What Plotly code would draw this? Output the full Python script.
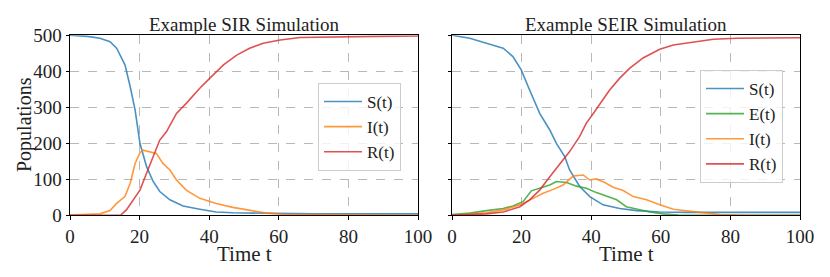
import plotly.graph_objects as go

# ---------------- data ----------------
sir_S_t = [0, 5, 8.6, 11.5, 13.4, 15.8, 17.3, 18.7, 20.1, 22, 23.9, 25.8, 28.7, 32.5, 37.3, 42, 46.8, 56.4, 70, 85, 100]
sir_S   = [500, 497, 492, 482, 464, 418, 357, 293, 200, 135, 94, 66, 43, 26, 17, 9, 7, 5, 4, 4, 4]

sir_I_t = [0, 5, 8.6, 11.5, 13.4, 15.8, 17.3, 18.7, 20.1, 21, 22.9, 24.8, 26.7, 28.7, 30.6, 33.4, 37.3, 42, 46.8, 51.6, 56.4, 61, 70, 85, 100]
sir_I   = [1, 2, 4, 13, 33, 52, 89, 144, 174, 181, 177, 172, 144, 126, 98, 70, 47, 33, 22, 13, 6, 3, 2, 1, 0]

sir_R_t = [0, 14.5, 16.2, 18.1, 20.1, 22, 23.9, 25.8, 27.7, 30.6, 33.4, 37.3, 40.2, 44.1, 47.9, 51.6, 55.5, 60.4, 66.1, 75.7, 88, 100]
sir_R   = [0, 0, 15, 43, 70, 117, 163, 209, 232, 283, 311, 353, 381, 418, 445, 464, 478, 487, 494, 496, 497, 498]

seir_S_t = [0, 5.1, 9.9, 14.7, 17.5, 19.9, 22.3, 25.2, 28.1, 30, 32.4, 33.8, 36.7, 39.6, 43.4, 48.2, 53, 59.7, 67.4, 80, 100]
seir_S   = [500, 492, 478, 464, 441, 404, 348, 283, 237, 200, 163, 126, 80, 52, 29, 19, 13, 9, 8, 8, 8]

seir_E_t = [0, 5.1, 9.9, 14.7, 17.5, 20.4, 22.8, 25.2, 28.1, 30, 32.9, 35.8, 38.6, 41.5, 44.4, 47.3, 50.1, 53, 56.9, 60.7, 65, 75, 100]
seir_E   = [2, 6, 13, 19, 26, 38, 68, 75, 84, 94, 91, 81, 75, 63, 52, 43, 24, 17, 9, 4, 1, 0, 0]

seir_I_t = [0, 5.1, 9.9, 14.7, 19.5, 23.3, 26.2, 29.1, 31.9, 34.8, 37.7, 39.6, 41.5, 43.9, 46.3, 49.2, 52.1, 55.9, 59.7, 63.6, 67.4, 70.3, 73.2, 77, 85, 100]
seir_I   = [0, 3, 7, 15, 29, 47, 61, 72, 84, 109, 112, 98, 101, 91, 78, 69, 52, 43, 29, 17, 13, 10, 6, 2, 0, 0]

seir_R_t = [0, 9.9, 14.7, 19.5, 22.3, 25.2, 28.1, 31, 33.8, 36.7, 38.6, 40.6, 43, 45.3, 48.2, 51.1, 54.9, 59.7, 63.6, 69.3, 75.1, 81.8, 100]
seir_R   = [0, 4, 9, 24, 43, 70, 107, 144, 177, 219, 256, 283, 316, 348, 381, 409, 437, 461, 473, 480, 489, 492, 493]

x_ticks = [0, 20, 40, 60, 80, 100]
y_ticks = [0, 100, 200, 300, 400, 500]

# ---------------- style ----------------
FONT = "Liberation Serif"
C_S, C_E, C_I, C_R = "#1f77b4", "#2ca02c", "#ff7f0e", "#d62728"

fig = go.Figure()

def add(x, y, name, color, xa, ya, leg):
    fig.add_trace(go.Scatter(
        x=x, y=y, name=name, mode="lines",
        line=dict(color=color, width=1.6), opacity=0.8,
        xaxis=xa, yaxis=ya, legend=leg))

add(sir_S_t, sir_S, "S(t)", C_S, "x", "y", "legend")
add(sir_I_t, sir_I, "I(t)", C_I, "x", "y", "legend")
add(sir_R_t, sir_R, "R(t)", C_R, "x", "y", "legend")

add(seir_S_t, seir_S, "S(t)", C_S, "x2", "y2", "legend2")
add(seir_E_t, seir_E, "E(t)", C_E, "x2", "y2", "legend2")
add(seir_I_t, seir_I, "I(t)", C_I, "x2", "y2", "legend2")
add(seir_R_t, seir_R, "R(t)", C_R, "x2", "y2", "legend2")

W, H = 830, 277
OFF = 8  # page body margin: screen px = figure px + OFF

def px(xs):
    return (xs - OFF) / W

def py(ys):
    return (H - (ys - OFF)) / H

axis_common = dict(
    showline=True, linecolor="black", linewidth=1, mirror=True,
    ticks="outside", ticklen=3.5, tickwidth=1, tickcolor="black",
    showgrid=True, gridcolor="#b8b8b8", griddash="dash", gridwidth=0.8,
    zeroline=False, automargin=False,
    tickfont=dict(family=FONT, size=19, color="#222"),
)

def label(text, x, y, size, angle=0):
    return dict(text=text, x=px(x), y=py(y), xref="paper", yref="paper",
                showarrow=False, xanchor="center", yanchor="middle",
                textangle=angle, font=dict(family=FONT, size=size, color="#222"))

fig.update_layout(
    width=W, height=H,
    margin=dict(l=0, r=0, t=0, b=0, autoexpand=False),
    paper_bgcolor="white", plot_bgcolor="white",
    font=dict(family=FONT, color="#222"),
    xaxis=dict(domain=[px(70), px(418)], range=[0, 100], tickvals=x_ticks,
               anchor="y", **axis_common),
    yaxis=dict(domain=[py(215.3), py(35.3)], range=[0, 500], tickvals=y_ticks,
               anchor="x", **axis_common),
    xaxis2=dict(domain=[px(452), px(800)], range=[0, 100], tickvals=x_ticks,
                anchor="y2", **axis_common),
    yaxis2=dict(domain=[py(215.3), py(35.3)], range=[0, 500], tickvals=y_ticks,
                showticklabels=False, anchor="x2", **axis_common),
    legend=dict(x=px(318), y=py(83), xanchor="left", yanchor="top",
                bgcolor="rgba(255,255,255,0.8)", bordercolor="#cccccc", borderwidth=1,
                font=dict(family=FONT, size=17, color="#222"), itemwidth=38),
    legend2=dict(x=px(700), y=py(70), xanchor="left", yanchor="top",
                 bgcolor="rgba(255,255,255,0.8)", bordercolor="#cccccc", borderwidth=1,
                 font=dict(family=FONT, size=17, color="#222"), itemwidth=38),
    annotations=[
        label("Example SIR Simulation", (70 + 418) / 2, 24, 19),
        label("Example SEIR Simulation", (452 + 800) / 2, 24, 19),
        label("Time t", (70 + 418) / 2, 254, 21),
        label("Time t", (452 + 800) / 2, 254, 21),
        label("Populations", 24, 125, 20, angle=-90),
    ],
)

fig.write_html("out.html")
